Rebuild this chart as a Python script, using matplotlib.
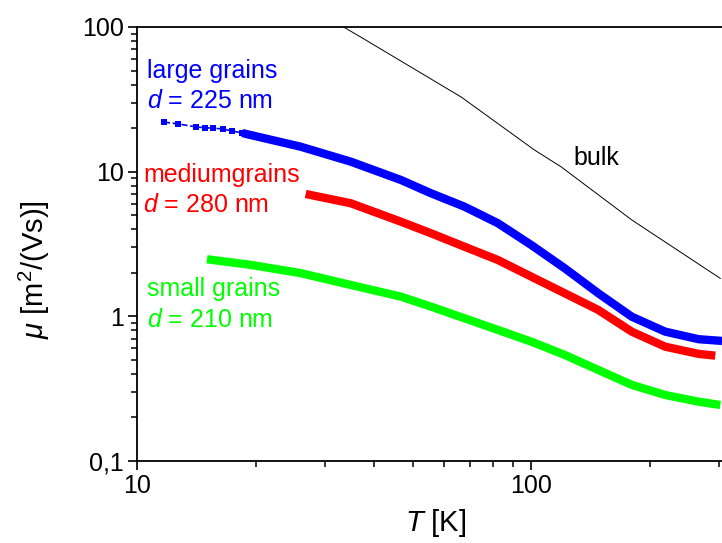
import matplotlib
matplotlib.use("Agg")
import matplotlib.pyplot as plt
from matplotlib.ticker import FixedLocator, NullFormatter

plt.rcParams["font.family"] = ["Liberation Sans", "DejaVu Sans"]
plt.rcParams["mathtext.fontset"] = "custom"
plt.rcParams["mathtext.rm"] = "Liberation Sans"
plt.rcParams["mathtext.it"] = "Liberation Sans:italic"

# large grains: sparse low-T points, then dense curve
large_T_sparse = [11.7, 12.7, 14.1, 14.9, 15.6, 16.55, 17.45, 18.5]
large_mu_sparse = [22.0, 21.4, 20.4, 20.1, 20.0, 19.7, 19.1, 18.5]
large_T = [18.5, 19.39, 25.98, 34.83, 46.70, 55.67, 67.66, 82.28, 100, 121.5,
           147.8, 179.7, 218.4, 265.6, 304.5]
large_mu = [18.5, 17.93, 14.89, 11.73, 8.76, 7.09, 5.73, 4.40, 3.11, 2.15,
            1.444, 0.995, 0.784, 0.695, 0.676]

medium_T = [26.77, 34.83, 46.70, 55.67, 67.66, 82.28, 100, 121.5, 147.8, 179.7,
            218.4, 265.6, 292.7]
medium_mu = [7.01, 6.05, 4.51, 3.75, 3.03, 2.45, 1.88, 1.444, 1.107, 0.784,
             0.617, 0.550, 0.535]

small_T = [15.05, 19.39, 25.98, 34.83, 46.70, 55.67, 67.66, 82.28, 100, 121.5,
           147.8, 179.7, 218.4, 265.6, 301.4]
small_mu = [2.48, 2.27, 1.99, 1.648, 1.368, 1.167, 0.970, 0.805, 0.668, 0.541,
            0.426, 0.336, 0.286, 0.257, 0.244]

bulk_T = [33.4, 36.9, 66.4, 101.9, 119, 179.7, 301.4]
bulk_mu = [100, 85.3, 32.8, 14.1, 10.8, 4.64, 1.83]

y_ticks = [0.1, 1, 10, 100]
y_ticklabels = ["0,1", "1", "10", "100"]
x_ticks = [10, 100]
x_ticklabels = ["10", "100"]

fig = plt.figure(figsize=(7.22, 5.43), dpi=100)
ax = fig.add_axes([137 / 722, 82 / 543, 587 / 722, 434 / 543])
ax.set_xscale("log")
ax.set_yscale("log")
ax.set_xlim(10, 308)
ax.set_ylim(0.1, 100)

lw = 6
ax.plot(large_T_sparse, large_mu_sparse, color="#0000ff", lw=1.2, ls="--",
        marker="s", ms=4.5, mew=0)
for T, mu, c in [(large_T, large_mu, "#0000ff"),
                 (medium_T, medium_mu, "#ff0000"),
                 (small_T, small_mu, "#00ff00")]:
    ax.plot(T, mu, color=c, lw=lw, solid_capstyle="butt", solid_joinstyle="round")
ax.plot(bulk_T, bulk_mu, color="black", lw=0.7)

fs = 18
ax.text(0.017, 0.882, "large grains", color="#0000ff", fontsize=fs, transform=ax.transAxes)
ax.text(0.017, 0.813, r"$\mathit{d}$ = 225 nm", color="#0000ff", fontsize=fs, transform=ax.transAxes)
ax.text(0.010, 0.643, "mediumgrains", color="#ff0000", fontsize=fs, transform=ax.transAxes)
ax.text(0.010, 0.574, r"$\mathit{d}$ = 280 nm", color="#ff0000", fontsize=fs, transform=ax.transAxes)
ax.text(0.017, 0.380, "small grains", color="#00ff00", fontsize=fs, transform=ax.transAxes)
ax.text(0.017, 0.309, r"$\mathit{d}$ = 210 nm", color="#00ff00", fontsize=fs, transform=ax.transAxes)
ax.text(0.744, 0.682, "bulk", color="black", fontsize=fs, transform=ax.transAxes)

ax.xaxis.set_major_locator(FixedLocator(x_ticks))
ax.set_xticklabels(x_ticklabels)
ax.xaxis.set_minor_locator(FixedLocator([20, 30, 40, 50, 60, 70, 80, 90, 200, 300]))
ax.xaxis.set_minor_formatter(NullFormatter())
ax.yaxis.set_major_locator(FixedLocator(y_ticks))
ax.set_yticklabels(y_ticklabels)
ax.yaxis.set_minor_locator(FixedLocator([m * d for d in (0.1, 1, 10) for m in range(2, 10)]))
ax.yaxis.set_minor_formatter(NullFormatter())

for s in ax.spines.values():
    s.set_linewidth(1.3)
ax.tick_params(which="major", direction="out", length=6.5, width=1.2, labelsize=18, pad=3)
ax.tick_params(which="minor", direction="out", length=4, width=1.1)
ax.tick_params(axis="y", which="major", right=True, labelright=False)

ax.set_xlabel(r"$\mathit{T}$ [K]", fontsize=21)
ax.set_ylabel(r"$\mathit{\mu}$ [m$^2$/(Vs)]", fontsize=21)
ax.xaxis.set_label_coords(0.509, -0.105)
ax.yaxis.set_label_coords(-0.145, 0.44)

fig.savefig("out.png", dpi=100)
